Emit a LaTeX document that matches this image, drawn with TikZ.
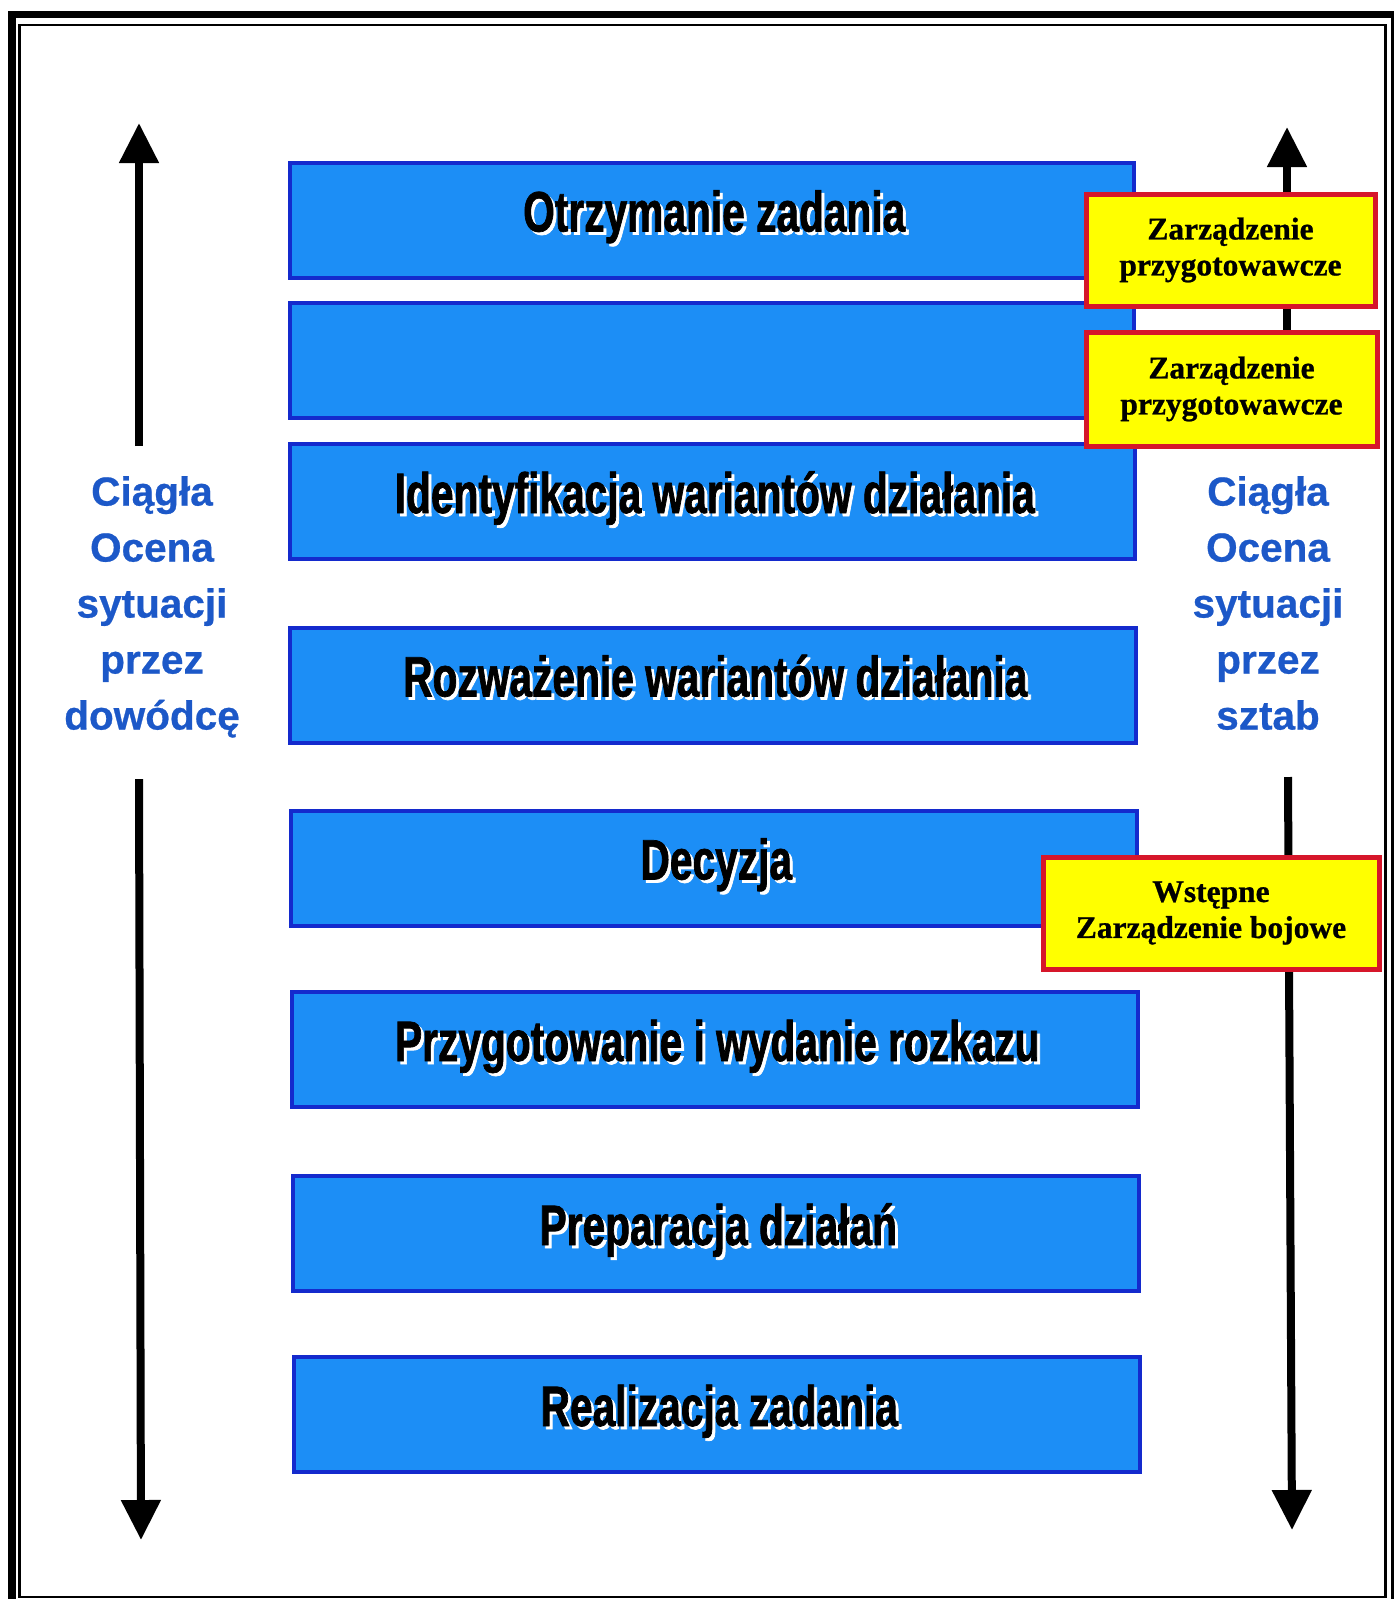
\documentclass[tikz,border=0pt]{standalone}
\usepackage{fontspec}
\setmainfont{Liberation Sans}
\newfontfamily\condfont{Liberation Sans}[FakeStretch=0.714, FakeBold=1.2]
\newfontfamily\sidefont{Liberation Sans}[FakeBold=0.6]
\newfontfamily\serifbold{Liberation Serif}[FakeBold=0.8]
\usetikzlibrary{arrows.meta}

\definecolor{stepfill}{RGB}{28,142,246}
\definecolor{stepedge}{RGB}{20,42,205}
\definecolor{noteyellow}{RGB}{255,255,0}
\definecolor{notered}{RGB}{214,22,42}
\definecolor{sideblue}{RGB}{28,88,200}

% black lettering with a white drop shadow
\newcommand\shadowed[1]{\leavevmode\rlap{\kern3pt\raisebox{-3pt}{\color{white}#1}}#1}

\tikzset{
  stepbox/.style={draw=stepedge, line width=4pt, fill=stepfill, rectangle,
    minimum height=115pt, inner sep=0pt},
  steptext/.style={anchor=base, inner sep=0pt, text=black,
    font=\condfont\bfseries\fontsize{57}{60}\selectfont},
  notebox/.style={draw=notered, line width=5pt, fill=noteyellow, rectangle,
    align=center, inner sep=0pt, text=black,
    font=\serifbold\bfseries\fontsize{31.5}{36}\selectfont},
  sidetext/.style={anchor=north, align=center, inner sep=0pt, text=sideblue,
    font=\sidefont\bfseries\fontsize{40.5}{56}\selectfont},
  arrowline/.style={line width=8pt, -{Triangle[width=38pt,length=40pt]}},
}

\begin{document}
\begin{tikzpicture}[x=1pt,y=-1pt]
\useasboundingbox (0,0) rectangle (1394,1599);
\fill[white] (0,0) rectangle (1394,1599);

% double frame
\draw[line width=8pt] (12,1600) -- (12,14);
\draw[line width=7pt] (8,14) -- (1394,14);
\draw[line width=3pt] (1392,14) -- (1392,1600);
\draw[line width=2.5pt] (19.5,25) rectangle (1385.5,1597);

% vertical arrows (left: commander, right: staff)
\coordinate (lua) at (139,446);
\coordinate (lub) at (139,123);
\coordinate (lda) at (139,779);
\coordinate (ldb) at (141,1540);
\coordinate (rua) at (1287,440);
\coordinate (rub) at (1287,127);
\coordinate (rda) at (1288,777);
\coordinate (rdb) at (1292,1530);
\draw[arrowline] (lua) -- (lub);
\draw[arrowline] (lda) -- (ldb);
\draw[arrowline] (rua) -- (rub);
\draw[arrowline] (rda) -- (rdb);

% process steps
\node[stepbox, minimum width=844pt] (s1) at (711.8,220) {};
\node[stepbox, minimum width=844pt] (s2) at (711.8,360.5) {};
\node[stepbox, minimum width=845pt] (s3) at (712.3,501.5) {};
\node[stepbox, minimum width=846pt] (s4) at (712.8,685) {};
\node[stepbox, minimum width=846pt] (s5) at (713.8,868) {};
\node[stepbox, minimum width=846pt] (s6) at (714.8,1049.5) {};
\node[stepbox, minimum width=846pt] (s7) at (715.8,1233.5) {};
\node[stepbox, minimum width=846pt] (s8) at (716.8,1414.5) {};

\node[steptext] (t1) at ([xshift=2.5pt,yshift=-11.5pt]s1.center) {\shadowed{Otrzymanie zadania}};
\node[steptext] (t3) at ([xshift=2.5pt,yshift=-11.5pt]s3.center) {\shadowed{Identyfikacja wariantów działania}};
\node[steptext] (t4) at ([xshift=2.5pt,yshift=-11.5pt]s4.center) {\shadowed{Rozważenie wariantów działania}};
\node[steptext] (t5) at ([xshift=2.5pt,yshift=-11.5pt]s5.center) {\shadowed{Decyzja}};
\node[steptext] (t6) at ([xshift=2.5pt,yshift=-11.5pt]s6.center) {\shadowed{Przygotowanie i wydanie rozkazu}};
\node[steptext] (t7) at ([xshift=2.5pt,yshift=-11.5pt]s7.center) {\shadowed{Preparacja działań}};
\node[steptext] (t8) at ([xshift=2.5pt,yshift=-11.5pt]s8.center) {\shadowed{Realizacja zadania}};

% orders issued along the way
\node[notebox, minimum width=289pt, minimum height=112pt] (n1) at (1230.5,250) {Zarządzenie\\przygotowawcze};
\node[notebox, minimum width=291pt, minimum height=114pt] (n2) at (1231.5,389) {Zarządzenie\\przygotowawcze};
\node[notebox, minimum width=336pt, minimum height=112pt] (n3) at (1211,913) {Wstępne\\Zarządzenie bojowe};

% side captions
\node[sidetext] (lc) at (152,476) {Ciągła\\Ocena\\sytuacji\\przez\\dowódcę};
\node[sidetext] (rc) at (1268,476) {Ciągła\\Ocena\\sytuacji\\przez\\sztab};
\end{tikzpicture}
\end{document}
